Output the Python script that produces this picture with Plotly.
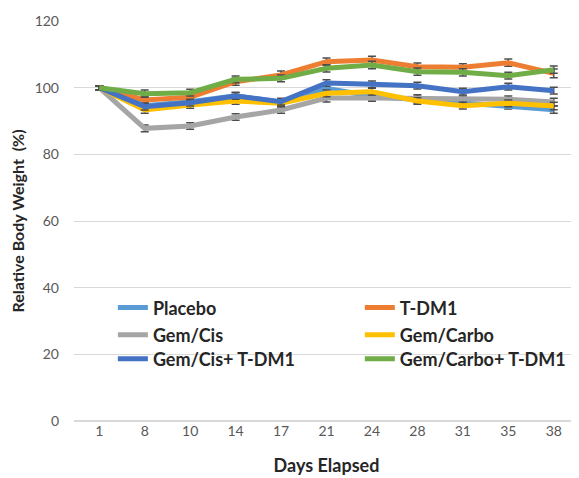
import plotly.graph_objects as go

DAYS = ["1", "8", "10", "14", "17", "21", "24", "28", "31", "35", "38"]

PLACEBO = [100, 94.6, 95.8, 97.6, 95.6, 99.8, 97.4, 96.4, 95.6, 94.6, 93.4]
TDM1 = [100, 96.3, 97.1, 101.8, 103.8, 107.8, 108.3, 106.3, 106.1, 107.5, 104.3]
GEM_CIS = [100, 87.8, 88.5, 91.2, 93.3, 96.9, 96.9, 96.8, 96.5, 96.5, 95.7]
GEM_CARBO = [100, 93.3, 94.8, 96.0, 95.3, 98.3, 98.8, 96.0, 94.6, 95.3, 94.5]
GEM_CIS_TDM1 = [100, 94.3, 95.5, 97.5, 95.8, 101.4, 101.0, 100.6, 98.8, 100.3, 99.1]
GEM_CARBO_TDM1 = [100, 98.2, 98.5, 102.5, 102.8, 105.8, 106.8, 104.8, 104.6, 103.6, 105.4]

PLACEBO_ERR = [0.6, 1.0, 1.0, 1.0, 1.0, 1.2, 1.0, 1.0, 1.0, 1.0, 1.1]
TDM1_ERR = [0.6, 1.1, 1.0, 1.1, 1.2, 1.1, 1.1, 1.1, 1.1, 1.1, 1.3]
GEM_CIS_ERR = [0.6, 1.0, 1.0, 1.0, 1.0, 1.2, 1.0, 1.1, 1.0, 1.0, 1.1]
GEM_CARBO_ERR = [0.6, 1.0, 1.0, 1.0, 1.0, 1.0, 1.0, 1.0, 1.0, 1.0, 1.1]
GEM_CIS_TDM1_ERR = [0.6, 1.0, 1.0, 1.0, 1.0, 1.0, 1.0, 1.0, 1.0, 1.0, 1.0]
GEM_CARBO_TDM1_ERR = [0.6, 1.1, 1.0, 1.0, 1.0, 1.1, 1.1, 1.1, 1.1, 1.0, 1.1]

# (name, values, errors, colour)
SERIES = [
    ("Placebo", PLACEBO, PLACEBO_ERR, "#5B9BD5"),
    ("T-DM1", TDM1, TDM1_ERR, "#ED7D31"),
    ("Gem/Cis", GEM_CIS, GEM_CIS_ERR, "#A5A5A5"),
    ("Gem/Carbo", GEM_CARBO, GEM_CARBO_ERR, "#FFC000"),
    ("Gem/Cis+ T-DM1", GEM_CIS_TDM1, GEM_CIS_TDM1_ERR, "#4472C4"),
    ("Gem/Carbo+ T-DM1", GEM_CARBO_TDM1, GEM_CARBO_TDM1_ERR, "#70AD47"),
]

# legend grid: 2 columns x 3 rows, one legend box per entry
LEGEND_COLS = [0.077, 0.566]
LEGEND_ROWS = [0.283, 0.215, 0.155]

fig = go.Figure()
legends = {}
for i, (name, vals, errs, color) in enumerate(SERIES):
    key = "legend" if i == 0 else f"legend{i + 1}"
    fig.add_trace(
        go.Scatter(
            x=DAYS,
            y=vals,
            name=name,
            mode="lines",
            legend=key,
            showlegend=True,
            line=dict(color=color, width=5),
            error_y=dict(type="data", array=errs, color="#4D4D4D", thickness=1.5, width=4),
        )
    )
    legends[key] = dict(
        visible=True,
        x=LEGEND_COLS[i % 2],
        y=LEGEND_ROWS[i // 2],
        xanchor="left",
        yanchor="middle",
        bgcolor="rgba(0,0,0,0)",
        font=dict(size=18, color="#262626", family="Lato, sans-serif", weight="bold"),
    )

fig.update_layout(
    width=579,
    height=478,
    showlegend=True,
    margin=dict(l=66, r=8, t=13, b=65),
    paper_bgcolor="white",
    plot_bgcolor="white",
    font=dict(family="Lato, sans-serif", color="#595959"),
    xaxis=dict(
        type="category",
        automargin=False,
        showgrid=False,
        showline=False,
        ticks="",
        tickfont=dict(size=14),
        title=dict(text="<b>Days Elapsed</b>", font=dict(size=18, color="#262626"), standoff=21),
    ),
    yaxis=dict(
        range=[0, 120],
        dtick=20,
        automargin=False,
        gridcolor="#D9D9D9",
        zeroline=True,
        zerolinecolor="#D9D9D9",
        showline=False,
        ticks="",
        ticklabelstandoff=14,
        tickfont=dict(size=14),
        title=dict(text="<b>Relative Body Weight  (%)</b>", font=dict(size=16, color="#262626"), standoff=10),
    ),
    **legends,
)

fig.write_html("out.html")
